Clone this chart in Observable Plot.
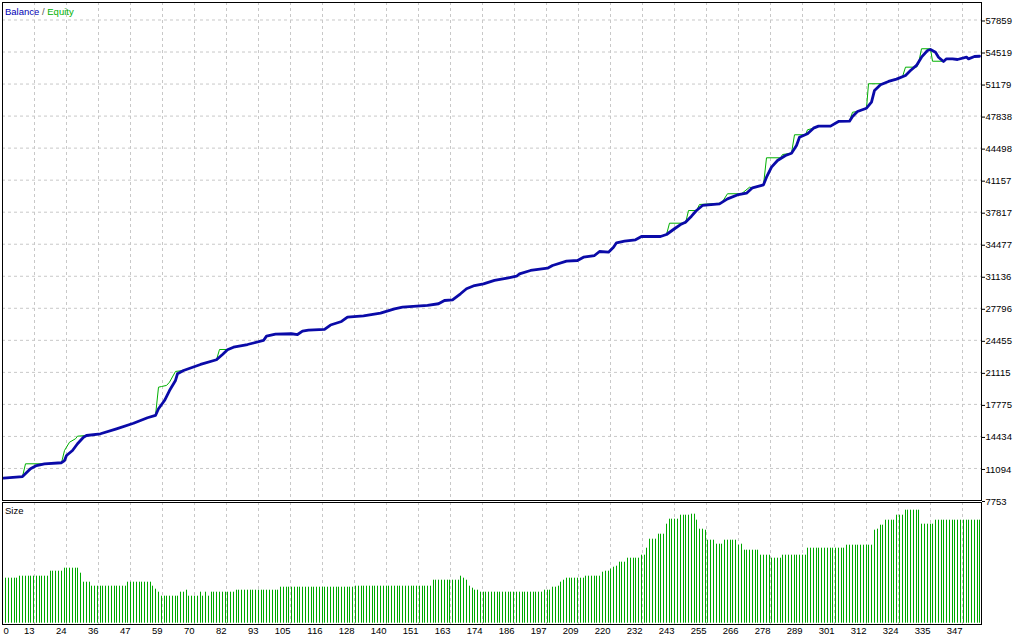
<!DOCTYPE html>
<html><head><meta charset="utf-8">
<script src="https://cdn.jsdelivr.net/npm/d3@7"></script>
<script src="https://cdn.jsdelivr.net/npm/@observablehq/plot@0.6"></script>
<style>
html,body{margin:0;padding:0;background:#fff}
body{width:1024px;height:640px;overflow:hidden;position:relative;font-family:"Liberation Sans",Arial,sans-serif}
#top{position:absolute;left:0;top:0;z-index:2}
#bottom{position:absolute;left:0;top:501px;z-index:1}
#top svg{overflow:visible}
.lbl{position:absolute;font-size:9.5px;line-height:11px;white-space:pre;color:#000;z-index:3}
</style></head><body>
<div id="top"></div>
<div id="bottom"></div>
<div class="lbl" style="left:5px;top:6px"><span style="color:#0000b4">Balance</span><span style="color:#555"> / </span><span style="color:#00b000">Equity</span></div>
<div class="lbl" style="left:5px;top:505px">Size</div>
<script>
// ---- data ----
const yTicks = [7753, 11094, 14434, 17775, 21115, 24455, 27796, 31136, 34477, 37817, 41157, 44498, 47838, 51179, 54519, 57859];
const xTickLabels = [0,13,24,36,47,59,70,82,93,105,116,128,140,151,163,174,186,197,209,220,232,243,255,266,278,289,301,312,324,335,347];

const balanceTrade = [-1,6,9,11,14,20,21,22,24,26,28,29,34,40,46,51,54,55,57,59,61,62,64,70,76,78,80,82,87,93,94,97,103,105,107,109,115,117,121,123,129,135,140,143,152,156,158,161,164,166,169,172,176,181,184,185,189,195,197,202,206,208,212,214,217,219,220,223,227,229,236,238,241,243,245,247,249,251,257,260,264,267,269,273,274,276,278,281,283,285,286,289,291,293,297,300,304,305,307,310,312,313,315,318,321,324,326,328,330,332,333,335,336,338,339,341,343,346,347,349,351];
const balanceValue = [10080,10250,11060,11400,11580,11690,11920,12450,12970,13670,14350,14530,14710,15230,15810,16380,16620,17320,18180,19220,20270,20970,21310,21940,22430,22980,23470,23740,24020,24440,24890,25100,25140,25060,25410,25510,25590,26050,26420,26870,27010,27290,27740,27910,28090,28270,28610,28680,29310,29830,30170,30350,30700,30980,31140,31390,31740,31980,32260,32710,32780,33120,33300,33720,33650,34170,34630,34790,34940,35280,35280,35490,36090,36530,36770,37400,37990,38520,38690,39210,39660,39800,40360,40670,41470,42510,43210,43730,43970,44770,45640,45990,46580,46790,46790,47280,47310,47800,48320,48660,49290,50510,51100,51450,51690,52070,52590,53120,53980,54680,54780,54500,53980,53530,53810,53810,53740,53980,53810,54050,54080];

const equityTrade = [-1,6,7,14,20,21,23,25,26,29,34,40,46,51,54,55,56,58,59,61,64,70,76,77,80,82,87,93,94,97,103,105,107,109,115,117,121,123,129,135,140,143,152,156,158,161,164,166,169,172,176,181,184,185,189,195,197,202,206,208,212,214,217,219,220,223,227,229,236,238,239,245,246,249,250,258,260,265,268,269,273,274,279,280,283,284,288,289,291,293,297,300,304,305,307,310,311,316,318,321,323,324,328,329,330,333,334,338,339,341,343,346,347,349,351];
const equityValue = [10080,10250,11580,11580,11690,12970,13830,14190,14460,14530,14710,15230,15810,16380,16620,19570,19640,19750,20090,21210,21310,21940,22430,23500,23500,23740,24020,24440,24890,25100,25140,25060,25410,25510,25590,26050,26420,26870,27010,27290,27740,27910,28090,28270,28610,28680,29310,29830,30170,30350,30700,30980,31140,31390,31740,31980,32260,32710,32780,33120,33300,33720,33650,34170,34630,34790,34940,35280,35280,35490,36670,36670,37990,37990,38620,38760,39740,39740,40420,40360,40670,43490,43490,43830,43970,45890,45890,46410,46580,46790,46790,47280,47310,48240,48320,48660,51210,51210,51450,51690,51950,52940,52940,53300,54860,54860,53560,53560,53810,53810,53740,53980,53810,54050,54080];

const sizeLots = [
0.45,0.45,0.45,0.45,0.45,
0.47,0.47,0.47,0.47,0.47,0.47,0.47,0.47,0.47,0.47,0.47,
0.52,0.52,0.52,0.52,0.52,
0.55,0.55,0.55,0.55,0.55,0.55,
0.50,
0.41,0.41,0.41,
0.37,0.37,0.37,0.37,0.37,0.37,0.37,0.37,0.37,0.37,0.37,0.37,0.37,
0.41,0.41,0.41,0.41,0.41,0.41,0.41,0.41,0.41,
0.37,0.34,0.31,
0.27,0.27,0.27,0.27,0.27,0.27,0.27,
0.31,0.31,
0.33,
0.27,0.27,0.27,0.27,
0.31,0.27,0.31,0.27,
0.31,0.31,0.31,0.31,0.31,0.31,0.31,0.31,0.31,
0.33,0.33,0.33,0.33,0.33,0.33,0.33,0.33,0.33,0.33,0.33,0.33,0.33,0.33,0.33,0.33,
0.36,0.36,0.36,0.36,0.36,0.36,0.36,0.36,0.36,0.36,0.36,0.36,0.36,0.36,0.36,0.36,0.36,0.36,0.36,0.36,0.36,0.36,0.36,0.36,0.36,0.36,0.36,
0.37,0.37,0.37,0.37,0.37,0.37,0.37,0.37,0.37,0.37,0.37,0.37,0.37,0.37,0.37,0.37,0.37,0.37,0.37,0.37,0.37,0.37,0.37,0.37,0.37,0.37,0.37,0.37,
0.43,0.43,0.43,0.43,0.43,0.43,0.43,0.43,0.43,0.43,
0.47,0.45,0.43,0.37,0.35,
0.33,0.33,
0.31,0.31,0.31,0.31,0.31,0.31,0.31,0.31,0.31,0.31,0.31,0.31,0.31,0.31,0.31,0.31,0.31,0.31,0.31,0.31,0.31,0.31,0.31,
0.33,0.33,0.33,
0.36,0.36,
0.37,0.41,0.43,
0.45,0.45,0.45,0.45,0.45,0.45,0.45,
0.47,0.47,0.47,0.47,0.47,0.47,
0.51,
0.52,0.52,
0.54,0.56,0.57,
0.61,0.61,0.61,
0.65,0.65,0.65,0.65,0.65,
0.68,0.68,
0.75,
0.84,0.84,0.84,
0.89,0.89,0.89,
0.99,
1.04,1.04,1.04,1.04,
1.08,1.08,1.08,1.08,
1.09,1.09,
1.03,
0.94,0.94,
0.93,
0.83,0.83,0.83,
0.79,0.79,0.79,
0.83,0.83,0.83,0.83,0.83,
0.78,0.79,
0.73,0.73,0.73,0.73,0.73,0.73,
0.68,0.68,0.68,0.68,
0.65,0.65,0.65,0.65,
0.68,0.68,0.68,0.68,0.68,0.68,0.68,0.68,0.68,
0.75,0.75,0.75,0.75,0.75,0.75,0.75,0.75,0.75,0.75,0.75,0.75,0.75,0.75,
0.78,0.78,0.78,0.78,0.78,0.78,0.78,0.78,0.78,0.78,
0.93,0.94,
0.98,0.98,
1.03,1.03,1.03,1.03,
1.08,1.08,1.08,
1.13,1.13,1.13,1.13,1.13,1.13,
0.99,0.99,0.99,0.99,0.99,
1.03,1.03,1.03,1.03,1.03,1.03,1.03,1.03,1.03,1.03,1.03,1.03,1.03,1.03,1.03,1.03,1.03
];

// ---- tables built from the arrays ----
const balance = balanceTrade.map((t, i) => ({trade: t, value: balanceValue[i]}));
const equity = equityTrade.map((t, i) => ({trade: t, value: equityValue[i]}));
const sizes = sizeLots.map((v, i) => ({trade: i, lots: v}));

// ---- layout ----
const W = 1024, ML = 2, MR = 43;
const xDomain = [-1.19, 351.55];
const plotW = W - ML - MR;
const gridStepPx = 32;
const gridTrades = xTickLabels.map((_, j) => xDomain[0] + j * gridStepPx * (xDomain[1] - xDomain[0]) / plotW);
const xTicks = xTickLabels.map((lab, j) => ({pos: gridTrades[j], label: String(lab)}));
const gridColor = "#c8c8c8";
const font = {fontFamily: "'Liberation Sans', Arial, sans-serif", fontSize: "9.5px", background: "transparent", color: "#000", overflow: "visible"};

const topChart = Plot.plot({
  width: W, height: 501,
  marginLeft: ML, marginRight: MR, marginTop: 2, marginBottom: 1,
  style: font,
  x: {domain: xDomain, axis: null, round: true},
  y: {domain: [7753, 59683], axis: null},
  marks: [
    Plot.ruleY(yTicks.slice(1), {stroke: gridColor, strokeDasharray: "3,3"}),
    Plot.ruleX(gridTrades.slice(1), {stroke: gridColor, strokeDasharray: "3,3"}),
    Plot.line(equity, {x: "trade", y: "value", stroke: "#00b000", strokeWidth: 1, curve: "linear"}),
    Plot.line(balance, {x: "trade", y: "value", stroke: "#0a0aa8", strokeWidth: 2.8, curve: "linear", strokeLinejoin: "round"}),
    Plot.frame({stroke: "#000"}),
    Plot.axisY({anchor: "right", ticks: yTicks, tickSize: 3, tickPadding: 1, tickFormat: d => String(d), label: null, dy: 1, fontSize: 9.5})
  ]
});
document.getElementById("top").appendChild(topChart);

const bottomChart = Plot.plot({
  width: W, height: 139,
  marginLeft: ML, marginRight: MR, marginTop: 1, marginBottom: 16,
  style: font,
  x: {domain: xDomain, axis: null, round: true},
  y: {domain: [-0.013, 1.207], axis: null},
  marks: [
    Plot.ruleX(gridTrades.slice(1), {stroke: gridColor, strokeDasharray: "3,3"}),
    Plot.ruleX(sizes, {x: "trade", y1: 0, y2: "lots", stroke: "#00a800", strokeWidth: 1}),
    Plot.frame({stroke: "#000"}),
    Plot.text(xTicks.slice(0, 1), {x: "pos", text: "label", frameAnchor: "bottom", dy: 9, dx: 1, textAnchor: "start", fontSize: 9.5}),
    Plot.text(xTicks.slice(1), {x: "pos", text: "label", frameAnchor: "bottom", dy: 9, dx: 0, textAnchor: "end", fontSize: 9.5})
  ]
});
document.getElementById("bottom").appendChild(bottomChart);
</script>
</body></html>
